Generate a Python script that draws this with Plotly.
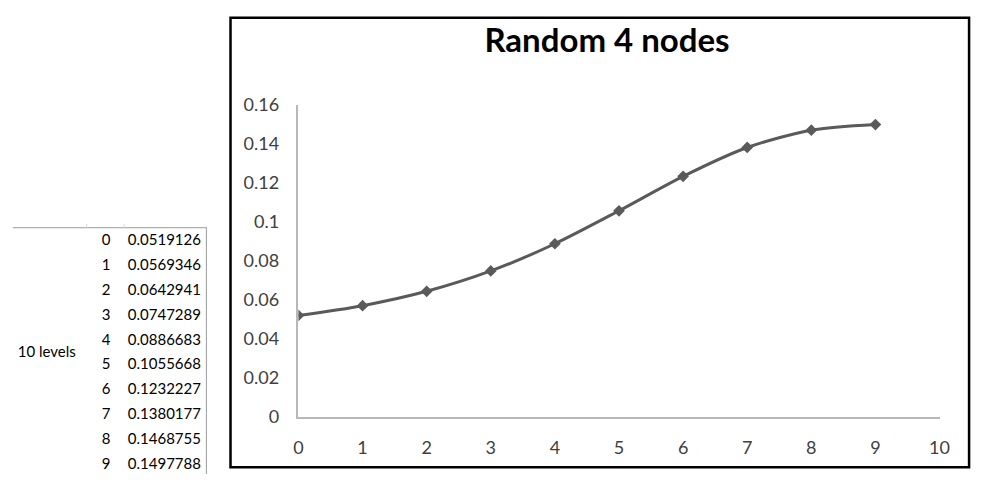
import plotly.graph_objects as go

levels = [0, 1, 2, 3, 4, 5, 6, 7, 8, 9]
values = [0.0519126, 0.0569346, 0.0642941, 0.0747289, 0.0886683,
          0.1055668, 0.1232227, 0.1380177, 0.1468755, 0.1497788]
value_labels = ["0.0519126", "0.0569346", "0.0642941", "0.0747289", "0.0886683",
                "0.1055668", "0.1232227", "0.1380177", "0.1468755", "0.1497788"]
group_label = "10 levels"
title_text = "Random 4 nodes"
x_ticks = [0, 1, 2, 3, 4, 5, 6, 7, 8, 9, 10]
y_ticks = [0, 0.02, 0.04, 0.06, 0.08, 0.1, 0.12, 0.14, 0.16]
y_ticktext = ["0", "0.02", "0.04", "0.06", "0.08", "0.1", "0.12", "0.14", "0.16"]

W, H = 984, 484
FONT = "Lato"
LINE_COLOR = "#5a5a5a"
AXIS_COLOR = "#b8b8b8"
TABLE_W = 215

fig = go.Figure()

# main chart
fig.add_trace(go.Scatter(
    x=levels, y=values, mode="lines+markers",
    line=dict(color=LINE_COLOR, width=3, shape="spline", smoothing=0.8),
    marker=dict(symbol="diamond", size=9, color=LINE_COLOR),
    showlegend=False, hoverinfo="x+y",
))

# table (on hidden helper axes, row index as y)
row0_px, row_step = 240.0, 26.1
y2_top = -row0_px / row_step
y2_bot = (H - row0_px) / row_step
fig.add_trace(go.Scatter(
    x=[107] * len(levels), y=levels, mode="text",
    text=[str(v) for v in levels], textposition="middle left",
    textfont=dict(family=FONT, size=15, color="#000000"),
    xaxis="x2", yaxis="y2", showlegend=False, hoverinfo="skip",
))
fig.add_trace(go.Scatter(
    x=[199] * len(levels), y=levels, mode="text",
    text=value_labels, textposition="middle left",
    textfont=dict(family=FONT, size=15, color="#000000"),
    xaxis="x2", yaxis="y2", showlegend=False, hoverinfo="skip",
))
fig.add_trace(go.Scatter(
    x=[13], y=[(levels[0] + levels[-1]) / 2], mode="text",
    text=[group_label], textposition="middle right",
    textfont=dict(family=FONT, size=15, color="#000000"),
    xaxis="x2", yaxis="y2", showlegend=False, hoverinfo="skip",
))

shapes = [
    # chart border
    dict(type="rect", xref="paper", yref="paper",
         x0=229 / W, x1=979 / W, y0=(H - 477) / H, y1=(H - 6) / H,
         line=dict(color="#000000", width=2.5), fillcolor="rgba(0,0,0,0)"),
    # table lines
    dict(type="line", xref="paper", yref="paper",
         x0=8 / W, x1=205 / W, y0=(H - 226) / H, y1=(H - 226) / H,
         line=dict(color="#9a9a9a", width=1)),
    dict(type="line", xref="paper", yref="paper",
         x0=204.5 / W, x1=204.5 / W, y0=0, y1=(H - 226) / H,
         line=dict(color="#9a9a9a", width=1)),
    dict(type="line", xref="paper", yref="paper",
         x0=83 / W, x1=83 / W, y0=(H - 226) / H, y1=(H - 222) / H,
         line=dict(color="#d8d8d8", width=1)),
    dict(type="line", xref="paper", yref="paper",
         x0=121 / W, x1=121 / W, y0=(H - 226) / H, y1=(H - 222) / H,
         line=dict(color="#d8d8d8", width=1)),
]

fig.update_layout(
    width=W, height=H,
    margin=dict(l=0, r=0, t=0, b=0),
    paper_bgcolor="white", plot_bgcolor="rgba(0,0,0,0)",
    font=dict(family=FONT, color="#404040"),
    title=dict(text="<b>" + title_text + "</b>", x=607 / W, xanchor="center",
               y=(H - 40) / H, yanchor="middle",
               font=dict(family=FONT, size=33, color="#000000")),
    xaxis=dict(domain=[298 / W, 949 / W], range=[0, 10], tickvals=x_ticks,
               showgrid=False, zeroline=False, showline=True,
               linecolor=AXIS_COLOR, linewidth=1.5, ticks="",
               ticklabelstandoff=14,
               tickfont=dict(family=FONT, size=18, color="#404040"),
               fixedrange=True),
    yaxis=dict(domain=[(H - 424) / H, (H - 97) / H], range=[0, 0.16],
               tickvals=y_ticks, ticktext=y_ticktext,
               showgrid=False, zeroline=False, showline=True,
               linecolor=AXIS_COLOR, linewidth=1.5, ticks="",
               ticklabelstandoff=14,
               tickfont=dict(family=FONT, size=18, color="#404040"),
               fixedrange=True),
    xaxis2=dict(domain=[0, TABLE_W / W], range=[0, TABLE_W], visible=False,
                fixedrange=True, anchor="y2"),
    yaxis2=dict(domain=[0, 1], range=[y2_bot, y2_top], visible=False,
                fixedrange=True, anchor="x2"),
    shapes=shapes,
)

fig.write_html("out.html")
